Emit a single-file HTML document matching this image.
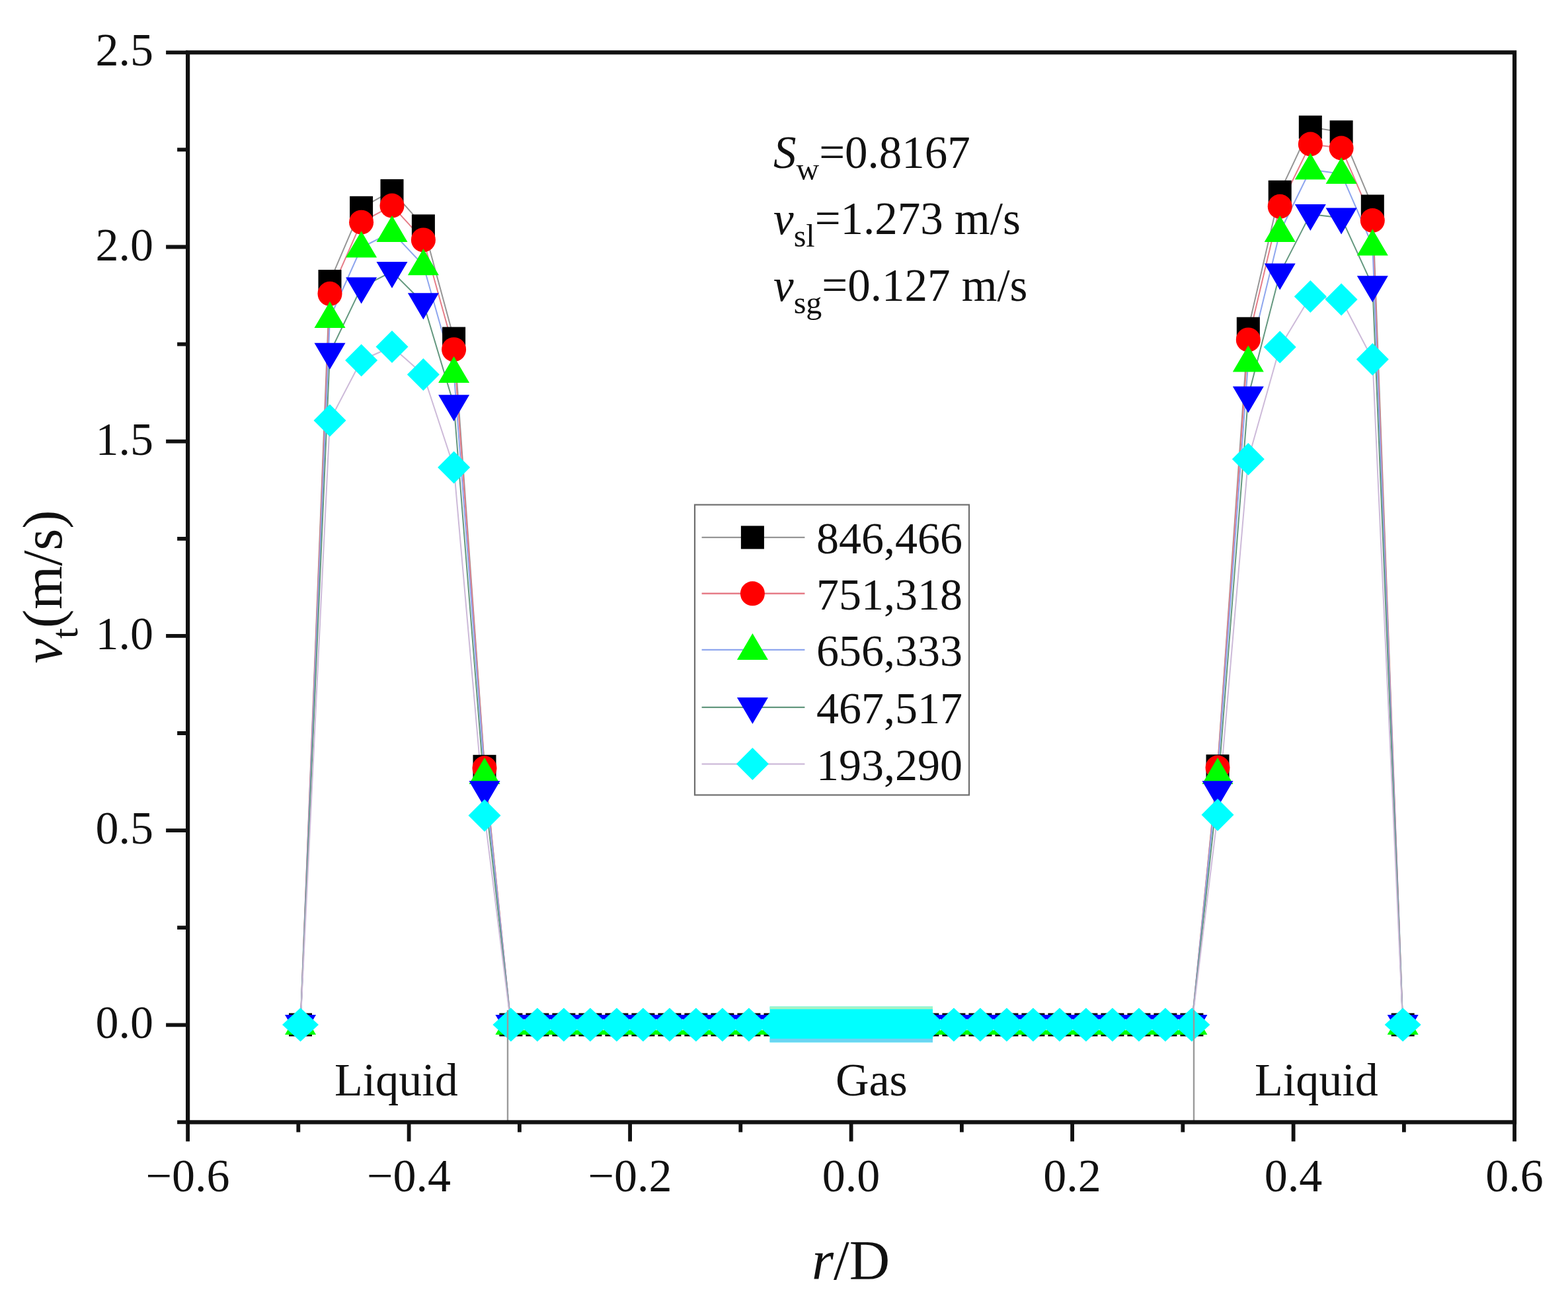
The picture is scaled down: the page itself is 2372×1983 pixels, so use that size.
<!DOCTYPE html>
<html><head><meta charset="utf-8"><title>v_t vs r/D</title>
<style>html,body{margin:0;padding:0;background:#fff;}svg{display:block;filter:blur(0.55px);} text{font-family:"Liberation Serif", "Times New Roman", serif;fill:#111;}</style>
</head><body>
<svg width="2372" height="1983" viewBox="0 0 2372 1983">
<rect width="2372" height="1983" fill="#ffffff"/>
<g>
<path d="M454.5,1550.0 L499.0,425.6 L546.6,314.3 L593.0,288.6 L640.4,341.9 L686.6,512.1 L733.0,1159.3 L772.9,1550.0 L812.9,1550.0 L852.9,1550.0 L892.9,1550.0 L932.9,1550.0 L972.9,1550.0 L1012.9,1550.0 L1052.9,1550.0 L1092.9,1550.0 L1132.9,1550.0 L1173.0,1550.0 L1185.8,1550.0 L1198.5,1550.0 L1211.3,1550.0 L1224.1,1550.0 L1236.8,1550.0 L1249.6,1550.0 L1262.4,1550.0 L1275.1,1550.0 L1287.9,1550.0 L1300.7,1550.0 L1313.4,1550.0 L1326.2,1550.0 L1339.0,1550.0 L1351.7,1550.0 L1364.5,1550.0 L1377.3,1550.0 L1390.0,1550.0 L1402.8,1550.0 L1442.9,1550.0 L1482.9,1550.0 L1522.9,1550.0 L1562.9,1550.0 L1602.9,1550.0 L1642.9,1550.0 L1682.9,1550.0 L1722.9,1550.0 L1762.9,1550.0 L1802.9,1550.0 L1842.0,1158.8 L1888.3,497.2 L1936.2,290.4 L1982.3,192.3 L2029.1,199.7 L2076.3,312.0 L2122.2,1550.0" fill="none" stroke="#969696" stroke-width="2.0" stroke-linejoin="round"/>
<path d="M454.5,1550.0 L499.0,444.3 L546.6,336.2 L593.0,311.1 L640.4,362.9 L686.6,528.7 L733.0,1161.8 L772.9,1550.0 L812.9,1550.0 L852.9,1550.0 L892.9,1550.0 L932.9,1550.0 L972.9,1550.0 L1012.9,1550.0 L1052.9,1550.0 L1092.9,1550.0 L1132.9,1550.0 L1173.0,1550.0 L1185.8,1550.0 L1198.5,1550.0 L1211.3,1550.0 L1224.1,1550.0 L1236.8,1550.0 L1249.6,1550.0 L1262.4,1550.0 L1275.1,1550.0 L1287.9,1550.0 L1300.7,1550.0 L1313.4,1550.0 L1326.2,1550.0 L1339.0,1550.0 L1351.7,1550.0 L1364.5,1550.0 L1377.3,1550.0 L1390.0,1550.0 L1402.8,1550.0 L1442.9,1550.0 L1482.9,1550.0 L1522.9,1550.0 L1562.9,1550.0 L1602.9,1550.0 L1642.9,1550.0 L1682.9,1550.0 L1722.9,1550.0 L1762.9,1550.0 L1802.9,1550.0 L1842.0,1161.0 L1888.3,513.9 L1936.2,312.3 L1982.3,218.0 L2029.1,224.0 L2076.3,333.5 L2122.2,1550.0" fill="none" stroke="#e67d88" stroke-width="2.0" stroke-linejoin="round"/>
<path d="M454.5,1550.0 L499.0,481.1 L546.6,374.5 L593.0,350.9 L640.4,401.2 L686.6,564.0 L733.0,1171.0 L772.9,1550.0 L812.9,1550.0 L852.9,1550.0 L892.9,1550.0 L932.9,1550.0 L972.9,1550.0 L1012.9,1550.0 L1052.9,1550.0 L1092.9,1550.0 L1132.9,1550.0 L1173.0,1550.0 L1185.8,1550.0 L1198.5,1550.0 L1211.3,1550.0 L1224.1,1550.0 L1236.8,1550.0 L1249.6,1550.0 L1262.4,1550.0 L1275.1,1550.0 L1287.9,1550.0 L1300.7,1550.0 L1313.4,1550.0 L1326.2,1550.0 L1339.0,1550.0 L1351.7,1550.0 L1364.5,1550.0 L1377.3,1550.0 L1390.0,1550.0 L1402.8,1550.0 L1442.9,1550.0 L1482.9,1550.0 L1522.9,1550.0 L1562.9,1550.0 L1602.9,1550.0 L1642.9,1550.0 L1682.9,1550.0 L1722.9,1550.0 L1762.9,1550.0 L1802.9,1550.0 L1842.0,1171.0 L1888.3,547.5 L1936.2,351.0 L1982.3,256.5 L2029.1,263.0 L2076.3,371.5 L2122.2,1550.0" fill="none" stroke="#8ea6ee" stroke-width="2.0" stroke-linejoin="round"/>
<path d="M454.5,1550.0 L499.0,533.8 L546.6,434.6 L593.0,410.9 L640.4,458.3 L686.6,612.3 L733.0,1196.3 L772.9,1550.0 L812.9,1550.0 L852.9,1550.0 L892.9,1550.0 L932.9,1550.0 L972.9,1550.0 L1012.9,1550.0 L1052.9,1550.0 L1092.9,1550.0 L1132.9,1550.0 L1173.0,1550.0 L1185.8,1550.0 L1198.5,1550.0 L1211.3,1550.0 L1224.1,1550.0 L1236.8,1550.0 L1249.6,1550.0 L1262.4,1550.0 L1275.1,1550.0 L1287.9,1550.0 L1300.7,1550.0 L1313.4,1550.0 L1326.2,1550.0 L1339.0,1550.0 L1351.7,1550.0 L1364.5,1550.0 L1377.3,1550.0 L1390.0,1550.0 L1402.8,1550.0 L1442.9,1550.0 L1482.9,1550.0 L1522.9,1550.0 L1562.9,1550.0 L1602.9,1550.0 L1642.9,1550.0 L1682.9,1550.0 L1722.9,1550.0 L1762.9,1550.0 L1802.9,1550.0 L1842.0,1196.3 L1888.3,599.6 L1936.2,413.4 L1982.3,323.9 L2029.1,329.5 L2076.3,432.2 L2122.2,1550.0" fill="none" stroke="#64987f" stroke-width="2.0" stroke-linejoin="round"/>
<path d="M454.5,1550.0 L499.0,636.0 L546.6,545.0 L593.0,524.5 L640.4,566.5 L686.6,707.0 L733.0,1233.5 L772.9,1550.0 L812.9,1550.0 L852.9,1550.0 L892.9,1550.0 L932.9,1550.0 L972.9,1550.0 L1012.9,1550.0 L1052.9,1550.0 L1092.9,1550.0 L1132.9,1550.0 L1173.0,1550.0 L1185.8,1550.0 L1198.5,1550.0 L1211.3,1550.0 L1224.1,1550.0 L1236.8,1550.0 L1249.6,1550.0 L1262.4,1550.0 L1275.1,1550.0 L1287.9,1550.0 L1300.7,1550.0 L1313.4,1550.0 L1326.2,1550.0 L1339.0,1550.0 L1351.7,1550.0 L1364.5,1550.0 L1377.3,1550.0 L1390.0,1550.0 L1402.8,1550.0 L1442.9,1550.0 L1482.9,1550.0 L1522.9,1550.0 L1562.9,1550.0 L1602.9,1550.0 L1642.9,1550.0 L1682.9,1550.0 L1722.9,1550.0 L1762.9,1550.0 L1802.9,1550.0 L1842.0,1232.5 L1888.3,694.5 L1936.2,525.0 L1982.3,448.5 L2029.1,453.0 L2076.3,543.5 L2122.2,1550.0" fill="none" stroke="#cdbad9" stroke-width="2.0" stroke-linejoin="round"/>
<rect x="437.0" y="1532.5" width="35.0" height="35.0" fill="#000000"/>
<rect x="481.5" y="408.1" width="35.0" height="35.0" fill="#000000"/>
<rect x="529.1" y="296.8" width="35.0" height="35.0" fill="#000000"/>
<rect x="575.5" y="271.1" width="35.0" height="35.0" fill="#000000"/>
<rect x="622.9" y="324.4" width="35.0" height="35.0" fill="#000000"/>
<rect x="669.1" y="494.6" width="35.0" height="35.0" fill="#000000"/>
<rect x="715.5" y="1141.8" width="35.0" height="35.0" fill="#000000"/>
<rect x="755.4" y="1532.5" width="35.0" height="35.0" fill="#000000"/>
<rect x="795.4" y="1532.5" width="35.0" height="35.0" fill="#000000"/>
<rect x="835.4" y="1532.5" width="35.0" height="35.0" fill="#000000"/>
<rect x="875.4" y="1532.5" width="35.0" height="35.0" fill="#000000"/>
<rect x="915.4" y="1532.5" width="35.0" height="35.0" fill="#000000"/>
<rect x="955.4" y="1532.5" width="35.0" height="35.0" fill="#000000"/>
<rect x="995.4" y="1532.5" width="35.0" height="35.0" fill="#000000"/>
<rect x="1035.4" y="1532.5" width="35.0" height="35.0" fill="#000000"/>
<rect x="1075.4" y="1532.5" width="35.0" height="35.0" fill="#000000"/>
<rect x="1115.4" y="1532.5" width="35.0" height="35.0" fill="#000000"/>
<rect x="1155.5" y="1532.5" width="35.0" height="35.0" fill="#000000"/>
<rect x="1168.3" y="1532.5" width="35.0" height="35.0" fill="#000000"/>
<rect x="1181.0" y="1532.5" width="35.0" height="35.0" fill="#000000"/>
<rect x="1193.8" y="1532.5" width="35.0" height="35.0" fill="#000000"/>
<rect x="1206.6" y="1532.5" width="35.0" height="35.0" fill="#000000"/>
<rect x="1219.3" y="1532.5" width="35.0" height="35.0" fill="#000000"/>
<rect x="1232.1" y="1532.5" width="35.0" height="35.0" fill="#000000"/>
<rect x="1244.9" y="1532.5" width="35.0" height="35.0" fill="#000000"/>
<rect x="1257.6" y="1532.5" width="35.0" height="35.0" fill="#000000"/>
<rect x="1270.4" y="1532.5" width="35.0" height="35.0" fill="#000000"/>
<rect x="1283.2" y="1532.5" width="35.0" height="35.0" fill="#000000"/>
<rect x="1295.9" y="1532.5" width="35.0" height="35.0" fill="#000000"/>
<rect x="1308.7" y="1532.5" width="35.0" height="35.0" fill="#000000"/>
<rect x="1321.5" y="1532.5" width="35.0" height="35.0" fill="#000000"/>
<rect x="1334.2" y="1532.5" width="35.0" height="35.0" fill="#000000"/>
<rect x="1347.0" y="1532.5" width="35.0" height="35.0" fill="#000000"/>
<rect x="1359.8" y="1532.5" width="35.0" height="35.0" fill="#000000"/>
<rect x="1372.5" y="1532.5" width="35.0" height="35.0" fill="#000000"/>
<rect x="1385.3" y="1532.5" width="35.0" height="35.0" fill="#000000"/>
<rect x="1425.4" y="1532.5" width="35.0" height="35.0" fill="#000000"/>
<rect x="1465.4" y="1532.5" width="35.0" height="35.0" fill="#000000"/>
<rect x="1505.4" y="1532.5" width="35.0" height="35.0" fill="#000000"/>
<rect x="1545.4" y="1532.5" width="35.0" height="35.0" fill="#000000"/>
<rect x="1585.4" y="1532.5" width="35.0" height="35.0" fill="#000000"/>
<rect x="1625.4" y="1532.5" width="35.0" height="35.0" fill="#000000"/>
<rect x="1665.4" y="1532.5" width="35.0" height="35.0" fill="#000000"/>
<rect x="1705.4" y="1532.5" width="35.0" height="35.0" fill="#000000"/>
<rect x="1745.4" y="1532.5" width="35.0" height="35.0" fill="#000000"/>
<rect x="1785.4" y="1532.5" width="35.0" height="35.0" fill="#000000"/>
<rect x="1824.5" y="1141.3" width="35.0" height="35.0" fill="#000000"/>
<rect x="1870.8" y="479.7" width="35.0" height="35.0" fill="#000000"/>
<rect x="1918.7" y="272.9" width="35.0" height="35.0" fill="#000000"/>
<rect x="1964.8" y="174.8" width="35.0" height="35.0" fill="#000000"/>
<rect x="2011.6" y="182.2" width="35.0" height="35.0" fill="#000000"/>
<rect x="2058.8" y="294.5" width="35.0" height="35.0" fill="#000000"/>
<rect x="2104.7" y="1532.5" width="35.0" height="35.0" fill="#000000"/>
<circle cx="454.5" cy="1550.0" r="18.5" fill="#ff0000"/>
<circle cx="499.0" cy="444.3" r="18.5" fill="#ff0000"/>
<circle cx="546.6" cy="336.2" r="18.5" fill="#ff0000"/>
<circle cx="593.0" cy="311.1" r="18.5" fill="#ff0000"/>
<circle cx="640.4" cy="362.9" r="18.5" fill="#ff0000"/>
<circle cx="686.6" cy="528.7" r="18.5" fill="#ff0000"/>
<circle cx="733.0" cy="1161.8" r="18.5" fill="#ff0000"/>
<circle cx="772.9" cy="1550.0" r="18.5" fill="#ff0000"/>
<circle cx="812.9" cy="1550.0" r="18.5" fill="#ff0000"/>
<circle cx="852.9" cy="1550.0" r="18.5" fill="#ff0000"/>
<circle cx="892.9" cy="1550.0" r="18.5" fill="#ff0000"/>
<circle cx="932.9" cy="1550.0" r="18.5" fill="#ff0000"/>
<circle cx="972.9" cy="1550.0" r="18.5" fill="#ff0000"/>
<circle cx="1012.9" cy="1550.0" r="18.5" fill="#ff0000"/>
<circle cx="1052.9" cy="1550.0" r="18.5" fill="#ff0000"/>
<circle cx="1092.9" cy="1550.0" r="18.5" fill="#ff0000"/>
<circle cx="1132.9" cy="1550.0" r="18.5" fill="#ff0000"/>
<circle cx="1173.0" cy="1550.0" r="18.5" fill="#ff0000"/>
<circle cx="1185.8" cy="1550.0" r="18.5" fill="#ff0000"/>
<circle cx="1198.5" cy="1550.0" r="18.5" fill="#ff0000"/>
<circle cx="1211.3" cy="1550.0" r="18.5" fill="#ff0000"/>
<circle cx="1224.1" cy="1550.0" r="18.5" fill="#ff0000"/>
<circle cx="1236.8" cy="1550.0" r="18.5" fill="#ff0000"/>
<circle cx="1249.6" cy="1550.0" r="18.5" fill="#ff0000"/>
<circle cx="1262.4" cy="1550.0" r="18.5" fill="#ff0000"/>
<circle cx="1275.1" cy="1550.0" r="18.5" fill="#ff0000"/>
<circle cx="1287.9" cy="1550.0" r="18.5" fill="#ff0000"/>
<circle cx="1300.7" cy="1550.0" r="18.5" fill="#ff0000"/>
<circle cx="1313.4" cy="1550.0" r="18.5" fill="#ff0000"/>
<circle cx="1326.2" cy="1550.0" r="18.5" fill="#ff0000"/>
<circle cx="1339.0" cy="1550.0" r="18.5" fill="#ff0000"/>
<circle cx="1351.7" cy="1550.0" r="18.5" fill="#ff0000"/>
<circle cx="1364.5" cy="1550.0" r="18.5" fill="#ff0000"/>
<circle cx="1377.3" cy="1550.0" r="18.5" fill="#ff0000"/>
<circle cx="1390.0" cy="1550.0" r="18.5" fill="#ff0000"/>
<circle cx="1402.8" cy="1550.0" r="18.5" fill="#ff0000"/>
<circle cx="1442.9" cy="1550.0" r="18.5" fill="#ff0000"/>
<circle cx="1482.9" cy="1550.0" r="18.5" fill="#ff0000"/>
<circle cx="1522.9" cy="1550.0" r="18.5" fill="#ff0000"/>
<circle cx="1562.9" cy="1550.0" r="18.5" fill="#ff0000"/>
<circle cx="1602.9" cy="1550.0" r="18.5" fill="#ff0000"/>
<circle cx="1642.9" cy="1550.0" r="18.5" fill="#ff0000"/>
<circle cx="1682.9" cy="1550.0" r="18.5" fill="#ff0000"/>
<circle cx="1722.9" cy="1550.0" r="18.5" fill="#ff0000"/>
<circle cx="1762.9" cy="1550.0" r="18.5" fill="#ff0000"/>
<circle cx="1802.9" cy="1550.0" r="18.5" fill="#ff0000"/>
<circle cx="1842.0" cy="1161.0" r="18.5" fill="#ff0000"/>
<circle cx="1888.3" cy="513.9" r="18.5" fill="#ff0000"/>
<circle cx="1936.2" cy="312.3" r="18.5" fill="#ff0000"/>
<circle cx="1982.3" cy="218.0" r="18.5" fill="#ff0000"/>
<circle cx="2029.1" cy="224.0" r="18.5" fill="#ff0000"/>
<circle cx="2076.3" cy="333.5" r="18.5" fill="#ff0000"/>
<circle cx="2122.2" cy="1550.0" r="18.5" fill="#ff0000"/>
<polygon points="454.5,1525.0 478.0,1565.0 431.0,1565.0" fill="#00ff00"/>
<polygon points="499.0,456.1 522.5,496.1 475.5,496.1" fill="#00ff00"/>
<polygon points="546.6,349.5 570.1,389.5 523.1,389.5" fill="#00ff00"/>
<polygon points="593.0,325.9 616.5,365.9 569.5,365.9" fill="#00ff00"/>
<polygon points="640.4,376.2 663.9,416.2 616.9,416.2" fill="#00ff00"/>
<polygon points="686.6,539.0 710.1,579.0 663.1,579.0" fill="#00ff00"/>
<polygon points="733.0,1146.0 756.5,1186.0 709.5,1186.0" fill="#00ff00"/>
<polygon points="772.9,1525.0 796.4,1565.0 749.4,1565.0" fill="#00ff00"/>
<polygon points="812.9,1525.0 836.4,1565.0 789.4,1565.0" fill="#00ff00"/>
<polygon points="852.9,1525.0 876.4,1565.0 829.4,1565.0" fill="#00ff00"/>
<polygon points="892.9,1525.0 916.4,1565.0 869.4,1565.0" fill="#00ff00"/>
<polygon points="932.9,1525.0 956.4,1565.0 909.4,1565.0" fill="#00ff00"/>
<polygon points="972.9,1525.0 996.4,1565.0 949.4,1565.0" fill="#00ff00"/>
<polygon points="1012.9,1525.0 1036.4,1565.0 989.4,1565.0" fill="#00ff00"/>
<polygon points="1052.9,1525.0 1076.4,1565.0 1029.4,1565.0" fill="#00ff00"/>
<polygon points="1092.9,1525.0 1116.4,1565.0 1069.4,1565.0" fill="#00ff00"/>
<polygon points="1132.9,1525.0 1156.4,1565.0 1109.4,1565.0" fill="#00ff00"/>
<polygon points="1173.0,1525.0 1196.5,1565.0 1149.5,1565.0" fill="#00ff00"/>
<polygon points="1185.8,1525.0 1209.3,1565.0 1162.3,1565.0" fill="#00ff00"/>
<polygon points="1198.5,1525.0 1222.0,1565.0 1175.0,1565.0" fill="#00ff00"/>
<polygon points="1211.3,1525.0 1234.8,1565.0 1187.8,1565.0" fill="#00ff00"/>
<polygon points="1224.1,1525.0 1247.6,1565.0 1200.6,1565.0" fill="#00ff00"/>
<polygon points="1236.8,1525.0 1260.3,1565.0 1213.3,1565.0" fill="#00ff00"/>
<polygon points="1249.6,1525.0 1273.1,1565.0 1226.1,1565.0" fill="#00ff00"/>
<polygon points="1262.4,1525.0 1285.9,1565.0 1238.9,1565.0" fill="#00ff00"/>
<polygon points="1275.1,1525.0 1298.6,1565.0 1251.6,1565.0" fill="#00ff00"/>
<polygon points="1287.9,1525.0 1311.4,1565.0 1264.4,1565.0" fill="#00ff00"/>
<polygon points="1300.7,1525.0 1324.2,1565.0 1277.2,1565.0" fill="#00ff00"/>
<polygon points="1313.4,1525.0 1336.9,1565.0 1289.9,1565.0" fill="#00ff00"/>
<polygon points="1326.2,1525.0 1349.7,1565.0 1302.7,1565.0" fill="#00ff00"/>
<polygon points="1339.0,1525.0 1362.5,1565.0 1315.5,1565.0" fill="#00ff00"/>
<polygon points="1351.7,1525.0 1375.2,1565.0 1328.2,1565.0" fill="#00ff00"/>
<polygon points="1364.5,1525.0 1388.0,1565.0 1341.0,1565.0" fill="#00ff00"/>
<polygon points="1377.3,1525.0 1400.8,1565.0 1353.8,1565.0" fill="#00ff00"/>
<polygon points="1390.0,1525.0 1413.5,1565.0 1366.5,1565.0" fill="#00ff00"/>
<polygon points="1402.8,1525.0 1426.3,1565.0 1379.3,1565.0" fill="#00ff00"/>
<polygon points="1442.9,1525.0 1466.4,1565.0 1419.4,1565.0" fill="#00ff00"/>
<polygon points="1482.9,1525.0 1506.4,1565.0 1459.4,1565.0" fill="#00ff00"/>
<polygon points="1522.9,1525.0 1546.4,1565.0 1499.4,1565.0" fill="#00ff00"/>
<polygon points="1562.9,1525.0 1586.4,1565.0 1539.4,1565.0" fill="#00ff00"/>
<polygon points="1602.9,1525.0 1626.4,1565.0 1579.4,1565.0" fill="#00ff00"/>
<polygon points="1642.9,1525.0 1666.4,1565.0 1619.4,1565.0" fill="#00ff00"/>
<polygon points="1682.9,1525.0 1706.4,1565.0 1659.4,1565.0" fill="#00ff00"/>
<polygon points="1722.9,1525.0 1746.4,1565.0 1699.4,1565.0" fill="#00ff00"/>
<polygon points="1762.9,1525.0 1786.4,1565.0 1739.4,1565.0" fill="#00ff00"/>
<polygon points="1802.9,1525.0 1826.4,1565.0 1779.4,1565.0" fill="#00ff00"/>
<polygon points="1842.0,1146.0 1865.5,1186.0 1818.5,1186.0" fill="#00ff00"/>
<polygon points="1888.3,522.5 1911.8,562.5 1864.8,562.5" fill="#00ff00"/>
<polygon points="1936.2,326.0 1959.7,366.0 1912.7,366.0" fill="#00ff00"/>
<polygon points="1982.3,231.5 2005.8,271.5 1958.8,271.5" fill="#00ff00"/>
<polygon points="2029.1,238.0 2052.6,278.0 2005.6,278.0" fill="#00ff00"/>
<polygon points="2076.3,346.5 2099.8,386.5 2052.8,386.5" fill="#00ff00"/>
<polygon points="2122.2,1525.0 2145.7,1565.0 2098.7,1565.0" fill="#00ff00"/>
<polygon points="454.5,1575.0 478.0,1535.0 431.0,1535.0" fill="#0000ff"/>
<polygon points="499.0,558.8 522.5,518.8 475.5,518.8" fill="#0000ff"/>
<polygon points="546.6,459.6 570.1,419.6 523.1,419.6" fill="#0000ff"/>
<polygon points="593.0,435.9 616.5,395.9 569.5,395.9" fill="#0000ff"/>
<polygon points="640.4,483.3 663.9,443.3 616.9,443.3" fill="#0000ff"/>
<polygon points="686.6,637.3 710.1,597.3 663.1,597.3" fill="#0000ff"/>
<polygon points="733.0,1221.3 756.5,1181.3 709.5,1181.3" fill="#0000ff"/>
<polygon points="772.9,1575.0 796.4,1535.0 749.4,1535.0" fill="#0000ff"/>
<polygon points="812.9,1575.0 836.4,1535.0 789.4,1535.0" fill="#0000ff"/>
<polygon points="852.9,1575.0 876.4,1535.0 829.4,1535.0" fill="#0000ff"/>
<polygon points="892.9,1575.0 916.4,1535.0 869.4,1535.0" fill="#0000ff"/>
<polygon points="932.9,1575.0 956.4,1535.0 909.4,1535.0" fill="#0000ff"/>
<polygon points="972.9,1575.0 996.4,1535.0 949.4,1535.0" fill="#0000ff"/>
<polygon points="1012.9,1575.0 1036.4,1535.0 989.4,1535.0" fill="#0000ff"/>
<polygon points="1052.9,1575.0 1076.4,1535.0 1029.4,1535.0" fill="#0000ff"/>
<polygon points="1092.9,1575.0 1116.4,1535.0 1069.4,1535.0" fill="#0000ff"/>
<polygon points="1132.9,1575.0 1156.4,1535.0 1109.4,1535.0" fill="#0000ff"/>
<polygon points="1173.0,1575.0 1196.5,1535.0 1149.5,1535.0" fill="#0000ff"/>
<polygon points="1185.8,1575.0 1209.3,1535.0 1162.3,1535.0" fill="#0000ff"/>
<polygon points="1198.5,1575.0 1222.0,1535.0 1175.0,1535.0" fill="#0000ff"/>
<polygon points="1211.3,1575.0 1234.8,1535.0 1187.8,1535.0" fill="#0000ff"/>
<polygon points="1224.1,1575.0 1247.6,1535.0 1200.6,1535.0" fill="#0000ff"/>
<polygon points="1236.8,1575.0 1260.3,1535.0 1213.3,1535.0" fill="#0000ff"/>
<polygon points="1249.6,1575.0 1273.1,1535.0 1226.1,1535.0" fill="#0000ff"/>
<polygon points="1262.4,1575.0 1285.9,1535.0 1238.9,1535.0" fill="#0000ff"/>
<polygon points="1275.1,1575.0 1298.6,1535.0 1251.6,1535.0" fill="#0000ff"/>
<polygon points="1287.9,1575.0 1311.4,1535.0 1264.4,1535.0" fill="#0000ff"/>
<polygon points="1300.7,1575.0 1324.2,1535.0 1277.2,1535.0" fill="#0000ff"/>
<polygon points="1313.4,1575.0 1336.9,1535.0 1289.9,1535.0" fill="#0000ff"/>
<polygon points="1326.2,1575.0 1349.7,1535.0 1302.7,1535.0" fill="#0000ff"/>
<polygon points="1339.0,1575.0 1362.5,1535.0 1315.5,1535.0" fill="#0000ff"/>
<polygon points="1351.7,1575.0 1375.2,1535.0 1328.2,1535.0" fill="#0000ff"/>
<polygon points="1364.5,1575.0 1388.0,1535.0 1341.0,1535.0" fill="#0000ff"/>
<polygon points="1377.3,1575.0 1400.8,1535.0 1353.8,1535.0" fill="#0000ff"/>
<polygon points="1390.0,1575.0 1413.5,1535.0 1366.5,1535.0" fill="#0000ff"/>
<polygon points="1402.8,1575.0 1426.3,1535.0 1379.3,1535.0" fill="#0000ff"/>
<polygon points="1442.9,1575.0 1466.4,1535.0 1419.4,1535.0" fill="#0000ff"/>
<polygon points="1482.9,1575.0 1506.4,1535.0 1459.4,1535.0" fill="#0000ff"/>
<polygon points="1522.9,1575.0 1546.4,1535.0 1499.4,1535.0" fill="#0000ff"/>
<polygon points="1562.9,1575.0 1586.4,1535.0 1539.4,1535.0" fill="#0000ff"/>
<polygon points="1602.9,1575.0 1626.4,1535.0 1579.4,1535.0" fill="#0000ff"/>
<polygon points="1642.9,1575.0 1666.4,1535.0 1619.4,1535.0" fill="#0000ff"/>
<polygon points="1682.9,1575.0 1706.4,1535.0 1659.4,1535.0" fill="#0000ff"/>
<polygon points="1722.9,1575.0 1746.4,1535.0 1699.4,1535.0" fill="#0000ff"/>
<polygon points="1762.9,1575.0 1786.4,1535.0 1739.4,1535.0" fill="#0000ff"/>
<polygon points="1802.9,1575.0 1826.4,1535.0 1779.4,1535.0" fill="#0000ff"/>
<polygon points="1842.0,1221.3 1865.5,1181.3 1818.5,1181.3" fill="#0000ff"/>
<polygon points="1888.3,624.6 1911.8,584.6 1864.8,584.6" fill="#0000ff"/>
<polygon points="1936.2,438.4 1959.7,398.4 1912.7,398.4" fill="#0000ff"/>
<polygon points="1982.3,348.9 2005.8,308.9 1958.8,308.9" fill="#0000ff"/>
<polygon points="2029.1,354.5 2052.6,314.5 2005.6,314.5" fill="#0000ff"/>
<polygon points="2076.3,457.2 2099.8,417.2 2052.8,417.2" fill="#0000ff"/>
<polygon points="2122.2,1575.0 2145.7,1535.0 2098.7,1535.0" fill="#0000ff"/>
<polygon points="454.5,1524.5 482.0,1550.0 454.5,1575.5 427.0,1550.0" fill="#00ffff"/>
<polygon points="499.0,611.5 523.5,636.0 499.0,660.5 474.5,636.0" fill="#00ffff"/>
<polygon points="546.6,520.5 571.1,545.0 546.6,569.5 522.1,545.0" fill="#00ffff"/>
<polygon points="593.0,500.0 617.5,524.5 593.0,549.0 568.5,524.5" fill="#00ffff"/>
<polygon points="640.4,542.0 664.9,566.5 640.4,591.0 615.9,566.5" fill="#00ffff"/>
<polygon points="686.6,682.5 711.1,707.0 686.6,731.5 662.1,707.0" fill="#00ffff"/>
<polygon points="733.0,1209.0 757.5,1233.5 733.0,1258.0 708.5,1233.5" fill="#00ffff"/>
<polygon points="772.9,1524.5 800.4,1550.0 772.9,1575.5 745.4,1550.0" fill="#00ffff"/>
<polygon points="812.9,1524.5 840.4,1550.0 812.9,1575.5 785.4,1550.0" fill="#00ffff"/>
<polygon points="852.9,1524.5 880.4,1550.0 852.9,1575.5 825.4,1550.0" fill="#00ffff"/>
<polygon points="892.9,1524.5 920.4,1550.0 892.9,1575.5 865.4,1550.0" fill="#00ffff"/>
<polygon points="932.9,1524.5 960.4,1550.0 932.9,1575.5 905.4,1550.0" fill="#00ffff"/>
<polygon points="972.9,1524.5 1000.4,1550.0 972.9,1575.5 945.4,1550.0" fill="#00ffff"/>
<polygon points="1012.9,1524.5 1040.4,1550.0 1012.9,1575.5 985.4,1550.0" fill="#00ffff"/>
<polygon points="1052.9,1524.5 1080.4,1550.0 1052.9,1575.5 1025.4,1550.0" fill="#00ffff"/>
<polygon points="1092.9,1524.5 1120.4,1550.0 1092.9,1575.5 1065.4,1550.0" fill="#00ffff"/>
<polygon points="1132.9,1524.5 1160.4,1550.0 1132.9,1575.5 1105.4,1550.0" fill="#00ffff"/>
<polygon points="1173.0,1524.5 1200.5,1550.0 1173.0,1575.5 1145.5,1550.0" fill="#00ffff"/>
<polygon points="1185.8,1524.5 1213.3,1550.0 1185.8,1575.5 1158.3,1550.0" fill="#00ffff"/>
<polygon points="1198.5,1524.5 1226.0,1550.0 1198.5,1575.5 1171.0,1550.0" fill="#00ffff"/>
<polygon points="1211.3,1524.5 1238.8,1550.0 1211.3,1575.5 1183.8,1550.0" fill="#00ffff"/>
<polygon points="1224.1,1524.5 1251.6,1550.0 1224.1,1575.5 1196.6,1550.0" fill="#00ffff"/>
<polygon points="1236.8,1524.5 1264.3,1550.0 1236.8,1575.5 1209.3,1550.0" fill="#00ffff"/>
<polygon points="1249.6,1524.5 1277.1,1550.0 1249.6,1575.5 1222.1,1550.0" fill="#00ffff"/>
<polygon points="1262.4,1524.5 1289.9,1550.0 1262.4,1575.5 1234.9,1550.0" fill="#00ffff"/>
<polygon points="1275.1,1524.5 1302.6,1550.0 1275.1,1575.5 1247.6,1550.0" fill="#00ffff"/>
<polygon points="1287.9,1524.5 1315.4,1550.0 1287.9,1575.5 1260.4,1550.0" fill="#00ffff"/>
<polygon points="1300.7,1524.5 1328.2,1550.0 1300.7,1575.5 1273.2,1550.0" fill="#00ffff"/>
<polygon points="1313.4,1524.5 1340.9,1550.0 1313.4,1575.5 1285.9,1550.0" fill="#00ffff"/>
<polygon points="1326.2,1524.5 1353.7,1550.0 1326.2,1575.5 1298.7,1550.0" fill="#00ffff"/>
<polygon points="1339.0,1524.5 1366.5,1550.0 1339.0,1575.5 1311.5,1550.0" fill="#00ffff"/>
<polygon points="1351.7,1524.5 1379.2,1550.0 1351.7,1575.5 1324.2,1550.0" fill="#00ffff"/>
<polygon points="1364.5,1524.5 1392.0,1550.0 1364.5,1575.5 1337.0,1550.0" fill="#00ffff"/>
<polygon points="1377.3,1524.5 1404.8,1550.0 1377.3,1575.5 1349.8,1550.0" fill="#00ffff"/>
<polygon points="1390.0,1524.5 1417.5,1550.0 1390.0,1575.5 1362.5,1550.0" fill="#00ffff"/>
<polygon points="1402.8,1524.5 1430.3,1550.0 1402.8,1575.5 1375.3,1550.0" fill="#00ffff"/>
<polygon points="1442.9,1524.5 1470.4,1550.0 1442.9,1575.5 1415.4,1550.0" fill="#00ffff"/>
<polygon points="1482.9,1524.5 1510.4,1550.0 1482.9,1575.5 1455.4,1550.0" fill="#00ffff"/>
<polygon points="1522.9,1524.5 1550.4,1550.0 1522.9,1575.5 1495.4,1550.0" fill="#00ffff"/>
<polygon points="1562.9,1524.5 1590.4,1550.0 1562.9,1575.5 1535.4,1550.0" fill="#00ffff"/>
<polygon points="1602.9,1524.5 1630.4,1550.0 1602.9,1575.5 1575.4,1550.0" fill="#00ffff"/>
<polygon points="1642.9,1524.5 1670.4,1550.0 1642.9,1575.5 1615.4,1550.0" fill="#00ffff"/>
<polygon points="1682.9,1524.5 1710.4,1550.0 1682.9,1575.5 1655.4,1550.0" fill="#00ffff"/>
<polygon points="1722.9,1524.5 1750.4,1550.0 1722.9,1575.5 1695.4,1550.0" fill="#00ffff"/>
<polygon points="1762.9,1524.5 1790.4,1550.0 1762.9,1575.5 1735.4,1550.0" fill="#00ffff"/>
<polygon points="1802.9,1524.5 1830.4,1550.0 1802.9,1575.5 1775.4,1550.0" fill="#00ffff"/>
<polygon points="1842.0,1208.0 1866.5,1232.5 1842.0,1257.0 1817.5,1232.5" fill="#00ffff"/>
<polygon points="1888.3,670.0 1912.8,694.5 1888.3,719.0 1863.8,694.5" fill="#00ffff"/>
<polygon points="1936.2,500.5 1960.7,525.0 1936.2,549.5 1911.7,525.0" fill="#00ffff"/>
<polygon points="1982.3,424.0 2006.8,448.5 1982.3,473.0 1957.8,448.5" fill="#00ffff"/>
<polygon points="2029.1,428.5 2053.6,453.0 2029.1,477.5 2004.6,453.0" fill="#00ffff"/>
<polygon points="2076.3,519.0 2100.8,543.5 2076.3,568.0 2051.8,543.5" fill="#00ffff"/>
<polygon points="2122.2,1524.5 2149.7,1550.0 2122.2,1575.5 2094.7,1550.0" fill="#00ffff"/>
</g>
<rect x="1164.6" y="1522.5" width="246.4" height="54" fill="#00ffff"/>
<rect x="1164.6" y="1522.5" width="246.4" height="4" fill="#a8f2c4"/>
<rect x="1164.6" y="1571" width="246.4" height="5.5" fill="#6cd4f2"/>
<line x1="768" y1="1528" x2="768" y2="1697.4" stroke="#9a9a9a" stroke-width="2.4"/>
<line x1="1806" y1="1528" x2="1806" y2="1697.4" stroke="#9a9a9a" stroke-width="2.4"/>
<g stroke="#111" stroke-width="6.2" fill="none" stroke-linecap="square">
<rect x="284.1" y="79.3" width="2007.0" height="1618.1"/>
</g>
<path d="M268.1,1697.4 H284.1 M251.1,1550.3 H284.1 M268.1,1403.2 H284.1 M251.1,1256.1 H284.1 M268.1,1109.0 H284.1 M251.1,961.9 H284.1 M268.1,814.8 H284.1 M251.1,667.7 H284.1 M268.1,520.6 H284.1 M251.1,373.5 H284.1 M268.1,226.4 H284.1 M251.1,79.3 H284.1 M284.1,1697.4 V1726.4 M451.3,1697.4 V1712.4 M618.6,1697.4 V1726.4 M785.9,1697.4 V1712.4 M953.1,1697.4 V1726.4 M1120.3,1697.4 V1712.4 M1287.6,1697.4 V1726.4 M1454.9,1697.4 V1712.4 M1622.1,1697.4 V1726.4 M1789.3,1697.4 V1712.4 M1956.6,1697.4 V1726.4 M2123.9,1697.4 V1712.4 M2291.1,1697.4 V1726.4" stroke="#111" stroke-width="5.8" fill="none"/>
<g font-size="70">
<text x="232" y="1570.3" text-anchor="end">0.0</text>
<text x="232" y="1276.1" text-anchor="end">0.5</text>
<text x="232" y="981.9" text-anchor="end">1.0</text>
<text x="232" y="687.7" text-anchor="end">1.5</text>
<text x="232" y="393.5" text-anchor="end">2.0</text>
<text x="232" y="99.3" text-anchor="end">2.5</text>
<text x="284.1" y="1802" text-anchor="middle">−0.6</text>
<text x="618.6" y="1802" text-anchor="middle">−0.4</text>
<text x="953.1" y="1802" text-anchor="middle">−0.2</text>
<text x="1287.6" y="1802" text-anchor="middle">0.0</text>
<text x="1622.1" y="1802" text-anchor="middle">0.2</text>
<text x="1956.6" y="1802" text-anchor="middle">0.4</text>
<text x="2291.1" y="1802" text-anchor="middle">0.6</text>
</g>
<text x="1287" y="1935" font-size="85" text-anchor="middle"><tspan font-style="italic">r</tspan>/D</text>
<text transform="translate(93,887.5) rotate(-90)" font-size="84.5" text-anchor="middle"><tspan font-style="italic">v</tspan><tspan font-size="57.5" dy="24">t</tspan><tspan dy="-24">(m/s)</tspan></text>
<g font-size="70">
<text x="506" y="1657">Liquid</text>
<text x="1264" y="1657">Gas</text>
<text x="1898" y="1657">Liquid</text>
</g>
<g font-size="69">
<text x="1170" y="254"><tspan font-style="italic">S</tspan><tspan font-size="48" dy="18">w</tspan><tspan dy="-18">=0.8167</tspan></text>
<text x="1170" y="354"><tspan font-style="italic">v</tspan><tspan font-size="48" dy="19">sl</tspan><tspan dy="-19">=1.273 m/s</tspan></text>
<text x="1170" y="455"><tspan font-style="italic">v</tspan><tspan font-size="48" dy="19">sg</tspan><tspan dy="-19">=0.127 m/s</tspan></text>
</g>
<rect x="1051" y="763.5" width="415" height="439.0" fill="#fff" stroke="#6e6e6e" stroke-width="2.2"/>
<line x1="1061.6" y1="812.9" x2="1217.4" y2="812.9" stroke="#969696" stroke-width="2.4"/>
<rect x="1120.9" y="795.4" width="35.0" height="35.0" fill="#000000"/>
<text x="1235" y="836.9" font-size="68">846,466</text>
<line x1="1061.6" y1="897.8" x2="1217.4" y2="897.8" stroke="#e67d88" stroke-width="2.4"/>
<circle cx="1138.4" cy="897.8" r="18.5" fill="#ff0000"/>
<text x="1235" y="921.8" font-size="68">751,318</text>
<line x1="1061.6" y1="982.9" x2="1217.4" y2="982.9" stroke="#8ea6ee" stroke-width="2.4"/>
<polygon points="1138.4,957.9 1161.9,997.9 1114.9,997.9" fill="#00ff00"/>
<text x="1235" y="1006.9" font-size="68">656,333</text>
<line x1="1061.6" y1="1069.9" x2="1217.4" y2="1069.9" stroke="#64987f" stroke-width="2.4"/>
<polygon points="1138.4,1094.9 1161.9,1054.9 1114.9,1054.9" fill="#0000ff"/>
<text x="1235" y="1093.9" font-size="68">467,517</text>
<line x1="1061.6" y1="1155.6" x2="1217.4" y2="1155.6" stroke="#cdbad9" stroke-width="2.4"/>
<polygon points="1138.4,1131.1 1162.9,1155.6 1138.4,1180.1 1113.9,1155.6" fill="#00ffff"/>
<text x="1235" y="1179.6" font-size="68">193,290</text>
</svg>
</body></html>
